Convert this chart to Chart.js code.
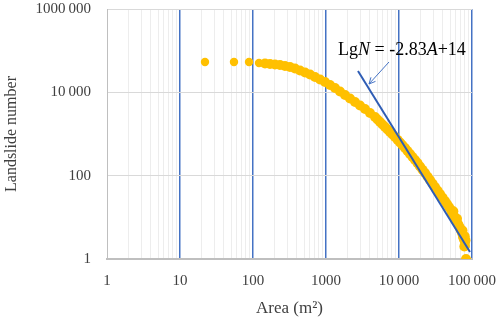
<!DOCTYPE html>
<html>
<head>
<meta charset="utf-8">
<script src="https://cdn.jsdelivr.net/npm/chart.js@4.4.1/dist/chart.umd.min.js"></script>
<style>
  body { margin: 0; background: #fff; }
  #wrap { width: 500px; height: 322px; }
</style>
</head>
<body>
<div id="wrap"><canvas id="plot"></canvas></div>
<script>
// cumulative landslide count vs area
const areaValues = [
    22.0, 54.9, 88.2, 120.9, 146, 171, 200, 234, 274, 321,
    376, 440, 516, 604, 707, 828, 969, 1134, 1328, 1555,
    1821, 2132, 2496, 2922, 3421, 4005, 4690, 5075, 5490, 5940,
    6428, 6955, 7526, 8143, 8812, 9535, 10320, 11166, 12085, 13076,
    14150, 15310, 16570, 17930, 19400, 20990, 22710, 24570, 26590, 28770,
    31130, 33680, 36450, 39440, 42680, 45450, 48400, 51550, 53210, 56660,
    58500, 60370, 64290, 66350, 68480, 70670, 72930, 75260, 77670, 80200,
    80200, 55500, 62300, 74000, 79500, 81500, 78500, 82770
];
const landslideCounts = [
    53460, 53460, 53460, 50580, 49200, 47860, 46560, 45290, 42850, 40550,
    37330, 33420, 29920, 26790, 23330, 20320, 17700, 15000, 12710, 10470,
    8630, 7110, 5860, 4830, 3980, 3190, 2560, 2228, 1940, 1690,
    1470, 1282, 1117, 973, 847, 729, 625, 538, 461, 391,
    331, 281, 238, 200, 166, 139, 116, 95.5, 78.7, 64.9,
    53.5, 44.1, 36.3, 29.9, 24.7, 20.9, 17.7, 15.0, 12.7, 10.8,
    9.38, 8.17, 6.92, 6.19, 5.55, 4.83, 4.21, 3.37, 2.94, 2.56,
    2.05, 14.0, 9.2, 4.8, 3.5, 2.8, 2.0, 1
];

// fitted power law, end points of the drawn line
const fitArea = [2743, 93900];
const fitCount = [32500, 1.47];

const xTickValues = [1, 10, 100, 1000, 10000, 100000];
const xTickLabels = ['1', '10', '100', '1000', '10\u2009000', '100\u2009000'];
const yTickValues = [1, 100, 10000, 1000000];
const yTickLabels = ['1', '100', '10\u2009000', '1000\u2009000'];

// equation label + arrow (data coords)
const eqAnchor = [1460, 78700];
const arrowTail = [7295, 53460];
const arrowHead = [3882, 15850];

const serif = '"Liberation Serif", "Times New Roman", serif';

const xGridValues = [];
for (let d = 1; d < 100000; d *= 10) {
    for (let m = 1; m < 10; m++) xGridValues.push(d * m);
}
xGridValues.push(100000);

const isDecade = v => Math.abs(Math.log10(v) - Math.round(Math.log10(v))) < 1e-9;

const scatterPts = areaValues.map((a, i) => ({ x: a, y: landslideCounts[i] }));
const fitPts = fitArea.map((a, i) => ({ x: a, y: fitCount[i] }));

const equationPlugin = {
    id: 'equation',
    afterDatasetsDraw(chart) {
        const { ctx, scales: { x, y } } = chart;
        ctx.save();
        // arrow
        const tx = x.getPixelForValue(arrowTail[0]), ty = y.getPixelForValue(arrowTail[1]);
        const hx = x.getPixelForValue(arrowHead[0]), hy = y.getPixelForValue(arrowHead[1]);
        ctx.strokeStyle = '#4472C4';
        ctx.lineWidth = 1;
        ctx.beginPath();
        ctx.moveTo(tx, ty);
        ctx.lineTo(hx, hy);
        const ang = Math.atan2(hy - ty, hx - tx);
        const len = 7;
        ctx.moveTo(hx, hy);
        ctx.lineTo(hx - len * Math.cos(ang - 0.45), hy - len * Math.sin(ang - 0.45));
        ctx.moveTo(hx, hy);
        ctx.lineTo(hx - len * Math.cos(ang + 0.45), hy - len * Math.sin(ang + 0.45));
        ctx.stroke();

        // equation text, N and A in italics
        const parts = [['Lg', false], ['N', true], [' = -2.83', false], ['A', true], ['+14', false]];
        let px = x.getPixelForValue(eqAnchor[0]);
        const py = y.getPixelForValue(eqAnchor[1]);
        ctx.fillStyle = '#000';
        ctx.textBaseline = 'alphabetic';
        ctx.textAlign = 'left';
        parts.forEach(([t, it]) => {
            ctx.font = (it ? 'italic ' : '') + '18px ' + serif;
            ctx.fillText(t, px, py);
            px += ctx.measureText(t).width;
        });
        ctx.restore();
    }
};

const canvas = document.getElementById('plot');
const ctx = canvas.getContext('2d');

const config = {
    type: 'scatter',
    data: {
        datasets: [
            {
                type: 'line',
                label: 'fit',
                data: fitPts,
                borderColor: '#2F5DB5',
                borderWidth: 2,
                pointRadius: 0,
                fill: false,
                order: 0
            },
            {
                label: 'landslides',
                data: scatterPts,
                backgroundColor: '#FFC000',
                borderColor: '#FFC000',
                borderWidth: 0,
                // lone dots at the top are a bit smaller than the dense band
                pointRadius: c => (c.dataIndex < 4 ? 4.2 : 5),
                order: 1
            }
        ]
    },
    options: {
        responsive: true,
        maintainAspectRatio: false,
        animation: false,
        layout: { padding: { top: 9, right: 28, left: 0, bottom: 0 } },
        plugins: {
            legend: { display: false },
            tooltip: { enabled: false }
        },
        scales: {
            x: {
                type: 'logarithmic',
                min: 1,
                max: 100000,
                afterBuildTicks: s => { s.ticks = xGridValues.map(v => ({ value: v })); },
                afterFit: s => {
                    s.height = 63;
                    s.paddingLeft = 0;
                    s.paddingRight = 0;
                },
                ticks: {
                    autoSkip: false,
                    maxRotation: 0,
                    padding: 13,
                    color: '#404040',
                    font: { family: serif, size: 15 },
                    callback: v => {
                        const i = xTickValues.indexOf(v);
                        return i >= 0 ? xTickLabels[i] : '';
                    }
                },
                grid: {
                    drawTicks: false,
                    color: c => {
                        const v = c.tick ? c.tick.value : 0;
                        if (v === 1) return '#BFBFBF';
                        return isDecade(v) ? '#4472C4' : '#EDEDED';
                    },
                    lineWidth: c => (c.tick && isDecade(c.tick.value) && c.tick.value !== 1) ? 1.5 : 1
                },
                border: { color: '#BFBFBF', width: 2 },
                title: {
                    display: true,
                    text: 'Area (m\u00B2)',
                    color: '#404040',
                    font: { family: serif, size: 17 },
                    padding: { top: 0, bottom: 3 }
                }
            },
            y: {
                type: 'logarithmic',
                min: 1,
                max: 1000000,
                afterBuildTicks: s => { s.ticks = yTickValues.map(v => ({ value: v })); },
                afterFit: s => {
                    s.width = 107;
                    s.paddingTop = 0;
                    s.paddingBottom = 0;
                },
                ticks: {
                    autoSkip: false,
                    padding: 16,
                    color: '#404040',
                    font: { family: serif, size: 15 },
                    callback: v => {
                        const i = yTickValues.indexOf(v);
                        return i >= 0 ? yTickLabels[i] : '';
                    }
                },
                grid: {
                    drawTicks: false,
                    color: '#D9D9D9',
                    lineWidth: 1
                },
                border: { color: '#BFBFBF', width: 1 },
                title: {
                    display: true,
                    text: 'Landslide number',
                    color: '#404040',
                    font: { family: serif, size: 16 },
                    padding: { top: 2, bottom: 0 }
                }
            }
        }
    },
    plugins: [equationPlugin]
};

const myChart = new Chart(ctx, config);
</script>
</body>
</html>
